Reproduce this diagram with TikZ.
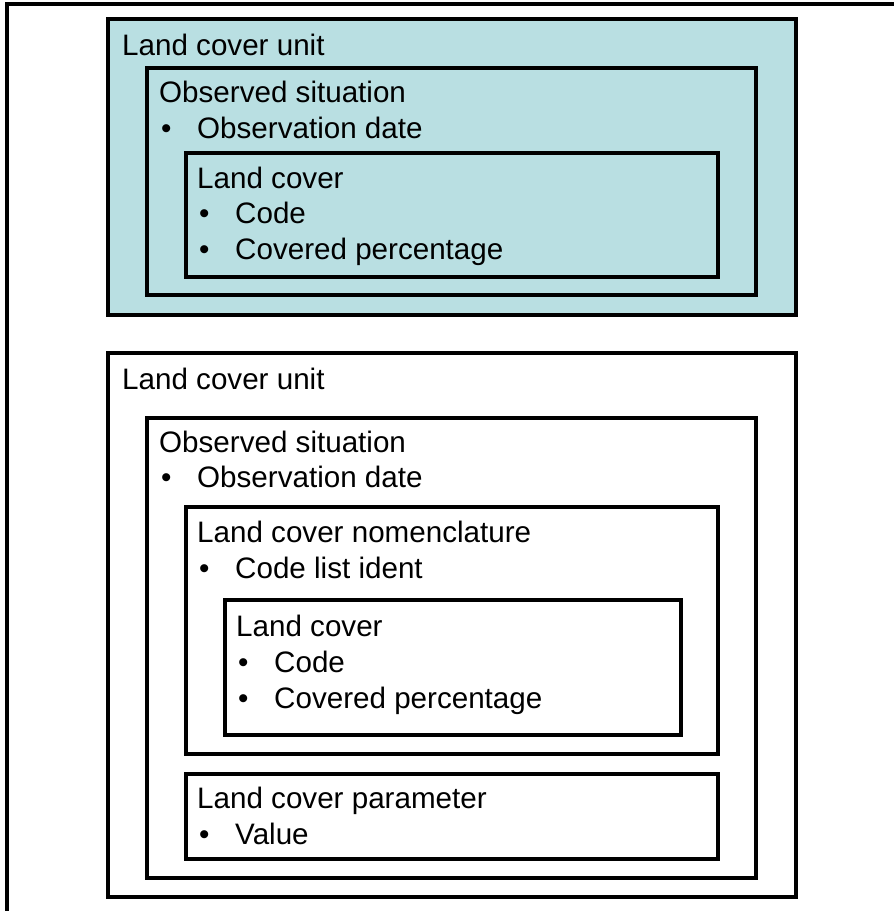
\documentclass[tikz,border=0pt]{standalone}
\usepackage{fontspec}
\setmainfont{Liberation Sans}
\definecolor{unitfill}{RGB}{185,223,226}
\begin{document}
\begin{tikzpicture}[x=1pt,y=-1pt,
    box/.style={draw=black, line width=3.4pt},
    lbl/.style={anchor=base west, inner sep=0pt, font=\fontsize{29.6}{34}\selectfont},
    dot/.style={lbl}]
  \useasboundingbox (0,0) rectangle (894,911);
  \draw[line width=4pt] (7,911) -- (7,4) -- (894,4);
  % coloured unit
  \draw[box, fill=unitfill] (108,19) rectangle (796,315);
  \draw[box] (147,68) rectangle (756,295);
  \draw[box] (186,153) rectangle (718,277);
  \node[lbl] (unitA) at (122,55) {Land cover unit};
  \node[lbl] (sitA) at (159,102) {Observed situation};
  \node[dot] at (161,138) {\textbullet};
  \node[lbl] (dateA) at (197,138) {Observation date};
  \node[lbl] (coverA) at (197,188) {Land cover};
  \node[dot] at (199,223) {\textbullet};
  \node[lbl] (codeA) at (235,223) {Code};
  \node[dot] at (199,259) {\textbullet};
  \node[lbl] (pctA) at (235,259) {Covered percentage};
  % plain unit
  \draw[box] (108,353) rectangle (796,897);
  \draw[box] (147,418) rectangle (756,878);
  \draw[box] (186,507) rectangle (718,754);
  \draw[box] (225,600) rectangle (681,735);
  \draw[box] (186,774) rectangle (718,859);
  \node[lbl] (unitB) at (122,389) {Land cover unit};
  \node[lbl] (sitB) at (159,452) {Observed situation};
  \node[dot] at (161,487) {\textbullet};
  \node[lbl] (dateB) at (197,487) {Observation date};
  \node[lbl] (nomB) at (197,542) {Land cover nomenclature};
  \node[dot] at (199,578) {\textbullet};
  \node[lbl] (listB) at (235,578) {Code list ident};
  \node[lbl] (coverB) at (236,636) {Land cover};
  \node[dot] at (238,672) {\textbullet};
  \node[lbl] (codeB) at (274,672) {Code};
  \node[dot] at (238,708) {\textbullet};
  \node[lbl] (pctB) at (274,708) {Covered percentage};
  \node[lbl] (parB) at (197,808) {Land cover parameter};
  \node[dot] at (199,844) {\textbullet};
  \node[lbl] (valB) at (235,844) {Value};
\end{tikzpicture}
\end{document}
